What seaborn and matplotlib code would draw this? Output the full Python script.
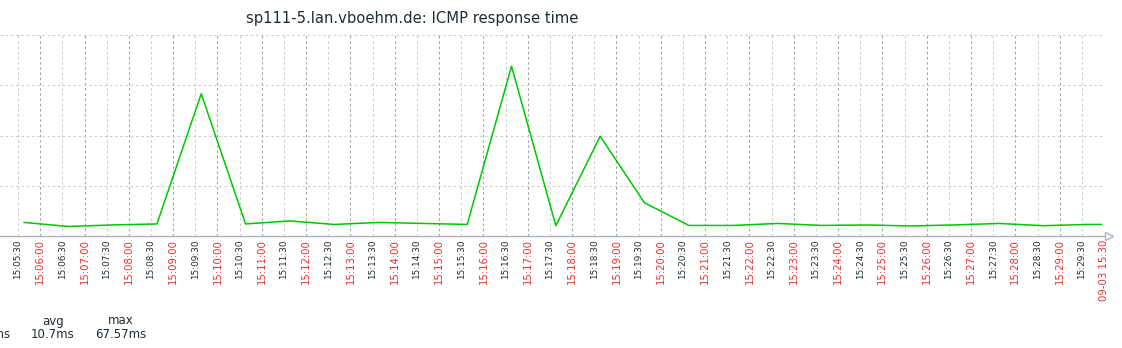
import matplotlib
matplotlib.use("Agg")
import matplotlib.pyplot as plt
import matplotlib.dates as mdates
from matplotlib.ticker import FuncFormatter
import seaborn as sns
import pandas as pd

# ---- data ----
title = "sp111-5.lan.vboehm.de: ICMP response time"
day = "2024-09-03"
times = ["15:05:38", "15:06:38", "15:07:38", "15:08:38", "15:09:38", "15:10:38",
         "15:11:38", "15:12:38", "15:13:38", "15:14:38", "15:15:38", "15:16:38",
         "15:17:38", "15:18:38", "15:19:38", "15:20:38", "15:21:38", "15:22:38",
         "15:23:38", "15:24:38", "15:25:38", "15:26:38", "15:27:38", "15:28:38",
         "15:29:38", "15:29:57"]
response_ms = [5.4, 3.8, 4.4, 4.8, 56.6, 4.8, 6.0, 4.6, 5.4, 5.0, 4.6, 67.57,
               4.1, 39.7, 13.2, 4.2, 4.2, 5.0, 4.2, 4.4, 4.0, 4.4, 5.0, 4.1,
               4.6, 4.6]
x_start = "15:05:05.6"
x_end = "15:30:00"
y_ticks = [20, 40, 60, 80]
legend_headers = ["min", "avg", "max"]
legend_values = ["3.8ms", "10.7ms", "67.57ms"]

sns.set_theme(style="white")
plt.rcParams['font.family'] = ['DejaVu Sans']

W, H = 1122, 348
fig = plt.figure(figsize=(W / 100, H / 100), dpi=100)
ax = fig.add_axes([0, 1 - 236 / H, 1104 / W, 201 / H])
ax.set_facecolor("white")

df = pd.DataFrame({"time": pd.to_datetime([f"{day} {t}" for t in times]),
                   "ms": response_ms})
sns.lineplot(data=df, x="time", y="ms", color="#00c800", linewidth=1.1, ax=ax)

t0 = pd.Timestamp(f"{day} {x_start}")
t1 = pd.Timestamp(f"{day} {x_end}")
ax.set_xlim(t0, t1)
ax.set_ylim(0, 80)

# ticks: minutes major (red), half minutes minor (black)
ax.xaxis.set_major_locator(mdates.MinuteLocator(interval=1))
ax.xaxis.set_minor_locator(mdates.SecondLocator(bysecond=[30]))
end_num = mdates.date2num(t1)


def major_fmt(v, pos):
    d = mdates.num2date(v)
    if abs(v - end_num) < 1e-7:
        return d.strftime("%m-%d %H:%M")
    return d.strftime("%H:%M:%S")


ax.xaxis.set_major_formatter(FuncFormatter(major_fmt))
ax.xaxis.set_minor_formatter(mdates.DateFormatter("%H:%M:%S"))
ax.tick_params(axis="x", which="major", labelsize=7.3, labelcolor="#e8312f",
               labelrotation=90, length=0, pad=2.5)
ax.tick_params(axis="x", which="minor", labelsize=6.4, labelcolor="#1f2c33",
               labelrotation=90, length=0, pad=2.5)
ax.set_yticks(y_ticks)
ax.tick_params(axis="y", left=False, labelleft=False)
ax.set_xlabel("")
ax.set_ylabel("")

dash = (0, (2.5, 2.5))
ax.grid(which="major", axis="x", color="#9ba8b2", linestyle=dash, linewidth=0.75)
ax.grid(which="minor", axis="x", color="#c8ced3", linestyle=dash, linewidth=0.75)
ax.grid(which="major", axis="y", color="#c8ced3", linestyle=dash, linewidth=0.75)
ax.set_axisbelow(True)

for s in ["top", "left", "right"]:
    ax.spines[s].set_visible(False)
ax.spines["bottom"].set_color("#a9b4be")
ax.spines["bottom"].set_linewidth(1.0)

arrow_x = t1 + pd.Timedelta(seconds=6.5)
ax.plot([arrow_x], [0], marker=">", markersize=6, markerfacecolor="white",
        markeredgecolor="#a9b4be", markeredgewidth=1.0, clip_on=False)

fig.text(412 / W, 1 - 18 / H, title, ha="center", va="center", fontsize=10.6,
         color="#1f2c33")

# legend columns: (header x, value x, alignment)
col_head_x = [-17, 53, 121]
col_val_x = [10, 53, 121]
col_val_ha = ["right", "center", "center"]
for hx, vx, vha, h, v in zip(col_head_x, col_val_x, col_val_ha,
                             legend_headers, legend_values):
    fig.text(hx / W, 1 - 321 / H, h, ha="center", va="center", fontsize=8.5,
             color="#1f2c33")
    fig.text(vx / W, 1 - 334 / H, v, ha=vha, va="center", fontsize=8.5,
             color="#1f2c33")

fig.savefig("out.png", dpi=100)
